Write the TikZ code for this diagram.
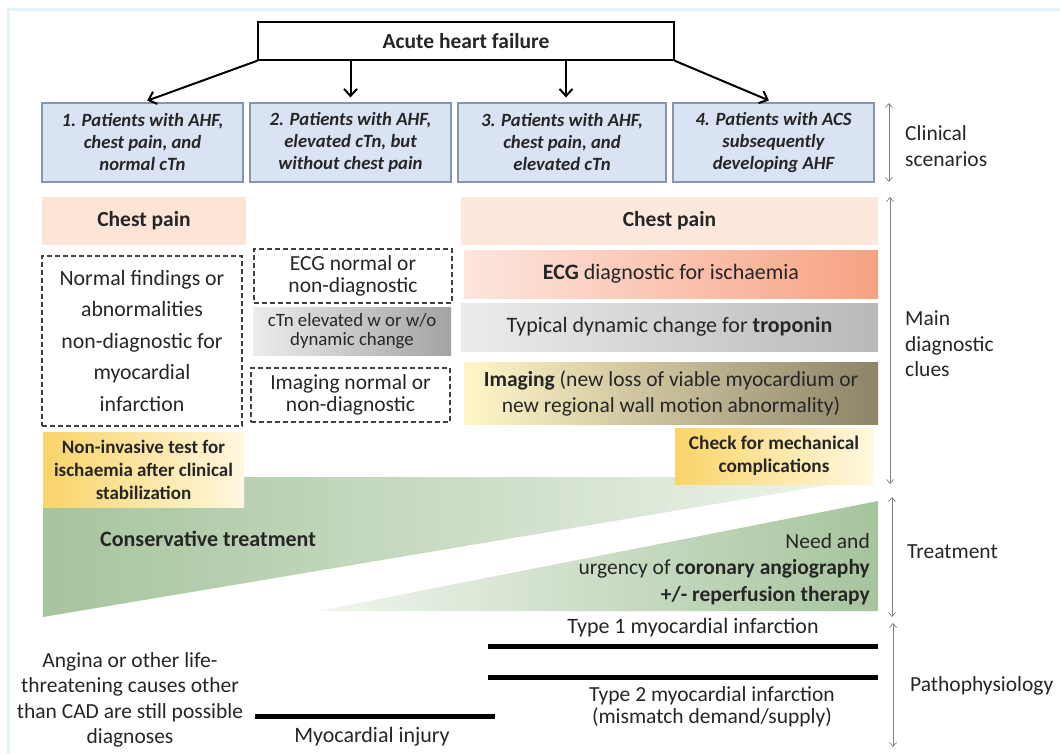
\documentclass[tikz,border=0pt]{standalone}
\usepackage{fontspec}
\setmainfont{Carlito}
\usetikzlibrary{arrows.meta}
\definecolor{txt}{HTML}{262626}
\definecolor{framec}{HTML}{E3F3F7}
\definecolor{scfill}{HTML}{DAE3F3}
\definecolor{scdraw}{HTML}{8497B0}
\definecolor{peach}{HTML}{FCE4D6}
\definecolor{ecgL}{HTML}{FCE6DE}
\definecolor{ecgR}{HTML}{F7A283}
\definecolor{grayL}{HTML}{ECECEC}
\definecolor{grayR}{HTML}{B9B9B9}
\definecolor{gray2R}{HTML}{A3A3A3}
\definecolor{imgL}{HTML}{FFF6C8}
\definecolor{imgR}{HTML}{8D8469}
\definecolor{goldL}{HTML}{F9D468}
\definecolor{goldR}{HTML}{FFF8E0}
\definecolor{grnD}{HTML}{A6C49D}
\definecolor{grnL}{HTML}{F1F6EF}
\definecolor{sidec}{HTML}{7F7F7F}
\definecolor{dashc}{HTML}{404040}
\begin{document}
\begin{tikzpicture}[x=1pt,y=-1pt,
  every node/.style={text=txt, inner sep=0pt, align=center},
  base/.style={font=\fontsize{22}{24}\selectfont},
  scen/.style={draw=scdraw, fill=scfill, line width=1.2pt, minimum width=201pt, minimum height=79pt,
     font=\fontsize{18.7}{22}\selectfont\bfseries\itshape},
  solid box/.style={minimum height=48pt, font=\fontsize{22}{24}\selectfont},
  dbox/.style={draw=dashc, dashed, dash pattern=on 5pt off 3pt, line width=1.4pt, font=\fontsize{21.5}{22}\selectfont},
  arr/.style={draw=black, line width=2pt, -{Straight Barb[length=7pt,width=13pt,line width=2pt]}},
  side/.style={draw=sidec, line width=0.7pt, {Straight Barb[length=4pt,width=7pt]}-{Straight Barb[length=4pt,width=7pt]}},
  sidetxt/.style={anchor=west, align=left, font=\fontsize{21.5}{25.5}\selectfont},
  bar/.style={line width=5pt, draw=black}
]
\useasboundingbox (0,0) rectangle (1060,754);
\fill[white] (0,0) rectangle (1060,754);
\draw[framec, line width=3pt] (8,10) rectangle (1090,780);

% treatment triangles
\shade[left color=grnD, right color=grnL] (43,477) -- (876,477) -- (43,617) -- cycle;
\shade[left color=grnL, right color=grnD] (878,501) -- (878,611) -- (318,611) -- cycle;

% top node
\node[draw=black, line width=1.5pt, minimum width=416pt, minimum height=38pt,
      font=\fontsize{21.5}{24}\selectfont\bfseries] (ahf) at (466,41) {Acute heart failure};

% scenarios
\node[scen] (s1) at (142.5,142.5) {1. Patients with AHF,\\chest pain, and\\normal cTn};
\node[scen] (s2) at (350.5,142.5) {2. Patients with AHF,\\elevated cTn, but\\without chest pain};
\node[scen, minimum width=208pt] (s3) at (562,142.5) {3. Patients with AHF,\\chest pain, and\\elevated cTn};
\node[scen] (s4) at (773.5,142.5) {4. Patients with ACS\\subsequently\\developing AHF};

\draw[arr, shorten >=5pt] (ahf.south west) -- (s1.north);
\draw[arr, shorten >=5pt] (s2.north |- ahf.south) -- (s2.north);
\draw[arr, shorten >=5pt] ([xshift=4pt]s3.north |- ahf.south) -- ([xshift=4pt]s3.north);
\draw[arr, shorten >=5pt] (ahf.south east) -- (s4.north);

% left column
\node[solid box, fill=peach, minimum width=204pt, font=\fontsize{21.5}{24}\selectfont\bfseries] (cp1) at (144,221) {Chest pain};
\node[dbox, minimum width=200pt, minimum height=170pt, font=\fontsize{21.8}{31.5}\selectfont] (nf) at (142,341)
  {Normal findings or\\abnormalities\\non-diagnostic for\\myocardial\\infarction};
\node[left color=goldL, right color=goldR, minimum width=201pt, minimum height=75pt,
      font=\fontsize{19}{23}\selectfont\bfseries] (ni) at (143.5,469.5)
  {Non-invasive test for\\ischaemia after clinical\\stabilization};

% middle column
\node[dbox, minimum width=198pt, minimum height=54pt] (ecgm) at (353,276) {ECG normal or\\non-diagnostic};
\node[left color=grayL, right color=gray2R, minimum width=198pt, minimum height=48pt,
      font=\fontsize{18.8}{19}\selectfont] (ctn) at (352,331) {cTn elevated w or w/o\\dynamic change};
\node[dbox, minimum width=199pt, minimum height=54pt] (imgm) at (350.5,395) {Imaging normal or\\non-diagnostic};

% right column
\node[solid box, fill=peach!85, minimum width=417pt, font=\fontsize{21.5}{24}\selectfont\bfseries] (cp2) at (669.5,221) {Chest pain};
\node[solid box, left color=ecgL, right color=ecgR, minimum width=414pt] (ecg) at (671,274)
  {\textbf{ECG} diagnostic for ischaemia};
\node[solid box, left color=grayL, right color=grayR, minimum width=417pt] (trop) at (669.5,327)
  {Typical dynamic change for \textbf{troponin}};
\node[left color=imgL, right color=imgR, minimum width=414pt, minimum height=62pt,
      font=\fontsize{21.5}{26}\selectfont] (img) at (671,393)
  {\textbf{Imaging} (new loss of viable myocardium or\\new regional wall motion abnormality)};
\node[left color=goldL, right color=goldR, minimum width=198pt, minimum height=56pt,
      font=\fontsize{19.3}{23}\selectfont\bfseries] (chk) at (774,456)
  {Check for mechanical\\complications};

% treatment texts
\node[anchor=west, font=\fontsize{22}{24}\selectfont\bfseries] (cons) at (100,539) {Conservative treatment};
\node[anchor=east, align=right, font=\fontsize{21.5}{26.5}\selectfont] (need) at (870,569)
  {Need and\hspace{5pt}\\urgency of \textbf{coronary angiography}\\\textbf{+/- reperfusion therapy}};

% pathophysiology
\coordinate (t1a) at (488,646); \coordinate (t1b) at (878,646);
\coordinate (t2a) at (488,677); \coordinate (t2b) at (878,677);
\coordinate (mia) at (255,716); \coordinate (mib) at (495,716);
\draw[bar] (t1a) -- (t1b);
\draw[bar] (t2a) -- (t2b);
\draw[bar] (mia) -- (mib);
\node[base] (t1txt) at (693,628) {Type 1 myocardial infarction};
\node[font=\fontsize{21.5}{22}\selectfont] (t2txt) at (712,707) {Type 2 myocardial infarction\\(mismatch demand/supply)};
\node[base] (mitxt) at (372,737) {Myocardial injury};
\node[font=\fontsize{21.5}{25.3}\selectfont] (ang) at (130,700)
  {Angina or other life-\\threatening causes other\\than CAD are still possible\\diagnoses};

% side arrows and labels
\coordinate (c1a) at (889,103); \coordinate (c1b) at (889,182);
\coordinate (c2a) at (890,197); \coordinate (c2b) at (890,484);
\coordinate (c3a) at (892,497); \coordinate (c3b) at (892,617);
\coordinate (c4a) at (893,623); \coordinate (c4b) at (893,747);
\draw[side] (c1a) -- (c1b);
\draw[side] (c2a) -- (c2b);
\draw[side] (c3a) -- (c3b);
\draw[side] (c4a) -- (c4b);
\node[sidetxt] (lclin) at (905,146) {Clinical\\scenarios};
\node[sidetxt] (ldiag) at (905,344) {Main\\diagnostic\\clues};
\node[sidetxt] (ltreat) at (907,552) {Treatment};
\node[sidetxt] (lpath) at (910,686) {Pathophysiology};
\end{tikzpicture}
\end{document}
